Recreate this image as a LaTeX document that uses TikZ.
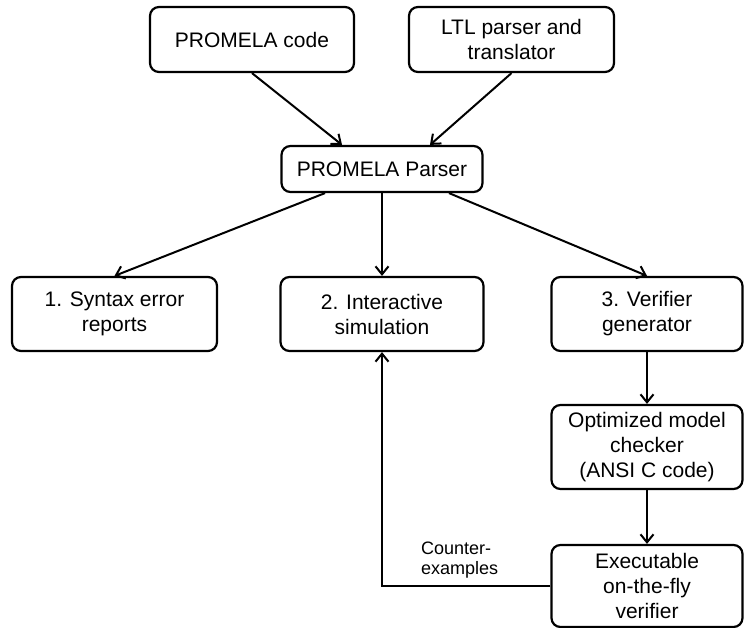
\documentclass[tikz,border=0pt]{standalone}
\usepackage{fontspec}
\setmainfont{Liberation Sans}
\usetikzlibrary{arrows.meta}
\begin{document}
\begin{tikzpicture}[x=1pt,y=-1pt,
  box/.style={draw, line width=2.2pt, rounded corners=9pt, align=center,
    inner sep=0pt, font=\fontsize{21}{25}\selectfont},
  flow/.style={line width=2pt,
    -{Straight Barb[length=8pt,width=13pt,line width=2pt]}},
  note/.style={inner sep=0pt, align=left, font=\fontsize{18}{20}\selectfont}]
  \useasboundingbox (0,0) rectangle (744,628);

  % sources
  \node[box, minimum width=204pt, minimum height=65pt] (code) at (252,39.5) {PROMELA code};
  \node[box, minimum width=205pt, minimum height=65pt] (ltl) at (511.5,39.5) {LTL parser and\\translator};

  % parser
  \node[box, minimum width=201pt, minimum height=46pt] (parser) at (382,169) {PROMELA Parser};

  % three outputs of the parser
  \node[box, minimum width=205pt, minimum height=74pt] (syntax) at (114.5,314) {1. Syntax error\\reports};
  \node[box, minimum width=203pt, minimum height=74pt] (inter) at (382,314) {2. Interactive\\simulation};
  \node[box, minimum width=191pt, minimum height=74pt] (verif) at (647,314) {3. Verifier\\generator};

  % verification chain
  \node[box, minimum width=191pt, minimum height=84pt] (optim) at (647,447) {Optimized model\\checker\\(ANSI C code)};
  \node[box, minimum width=191pt, minimum height=82pt] (exec) at (647,586) {Executable\\on-the-fly\\verifier};

  \node[note, anchor=north west] (ce) at (421,542) {Counter-\\examples};

  % connectors
  \draw[flow] (code.south) -- ([xshift=-40pt]parser.north);
  \draw[flow] (ltl.south) -- ([xshift=48pt]parser.north);
  \draw[flow] ([xshift=-57pt]parser.south) -- (syntax.north);
  \draw[flow] (parser.south) -- (inter.north);
  \draw[flow] ([xshift=67pt]parser.south) -- (verif.north);
  \draw[flow] (verif.south) -- (optim.north);
  \draw[flow] (optim.south) -- (exec.north);
  \draw[flow] (exec.west) -| (inter.south);
\end{tikzpicture}
\end{document}
